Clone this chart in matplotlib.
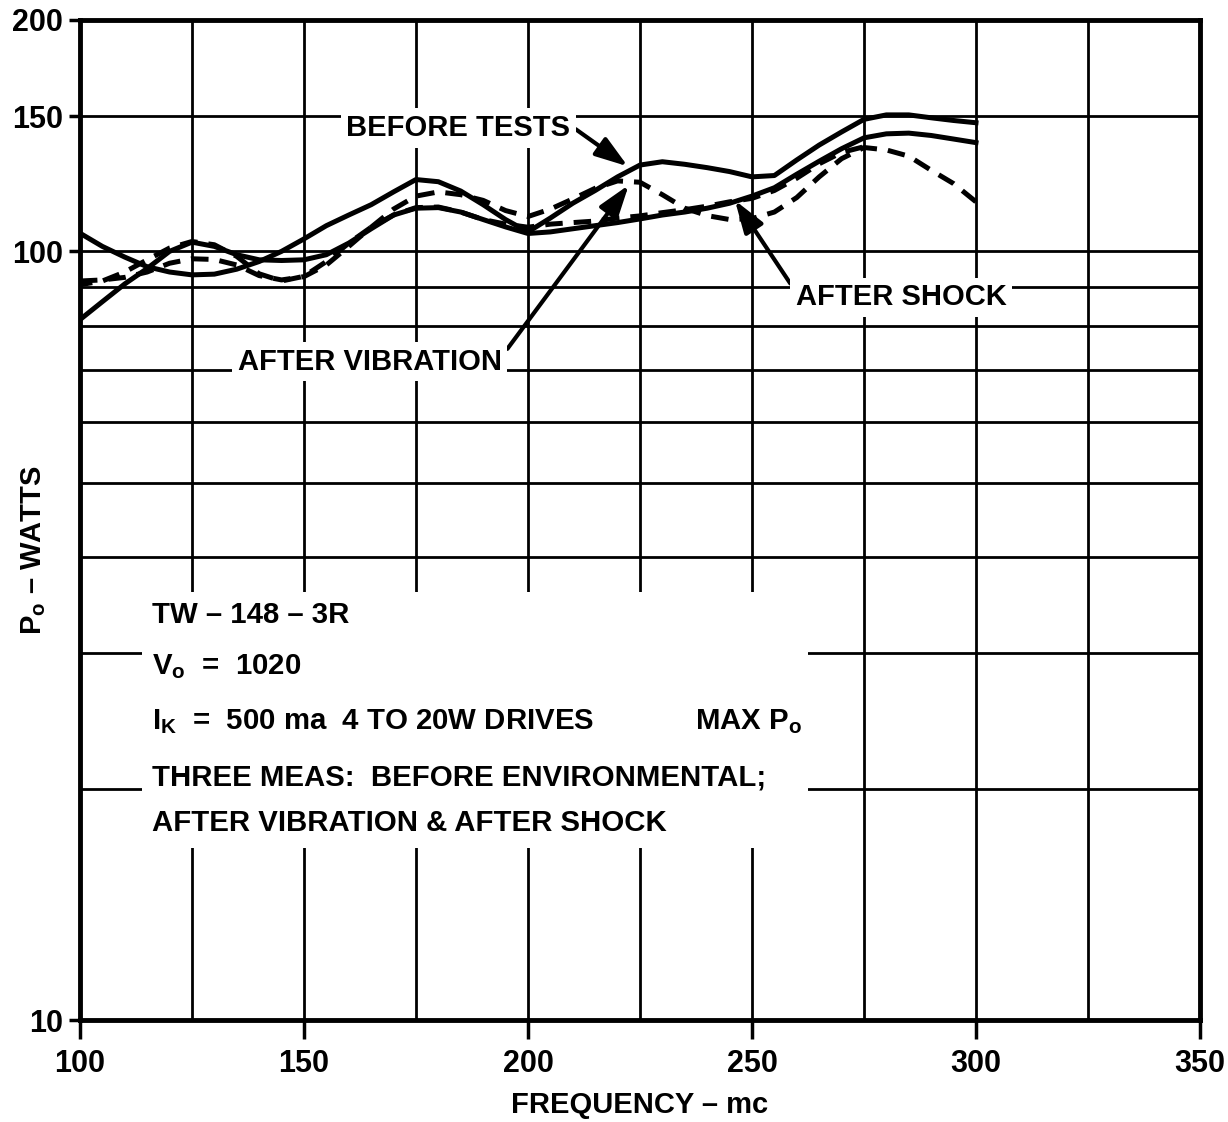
import matplotlib
matplotlib.use('Agg')
import matplotlib.pyplot as plt
from matplotlib.patches import Rectangle
from matplotlib.ticker import NullFormatter

wide = ['Liberation Sans', 'DejaVu Sans']
plt.rcParams['mathtext.fontset'] = 'custom'
plt.rcParams['mathtext.rm'] = 'Liberation Sans:bold'
plt.rcParams['mathtext.it'] = 'Liberation Sans:bold'
plt.rcParams['mathtext.bf'] = 'Liberation Sans:bold'

# frequency (mc) and output power (watts)
freq = [100, 105, 110, 115, 120, 125, 130, 135, 140, 145, 150, 155, 160, 165, 170,
        175, 180, 185, 190, 195, 200, 205, 210, 215, 220, 225, 230, 235, 240, 245,
        250, 255, 260, 265, 270, 275, 280, 285, 290, 295, 300]
before_tests = [105.6, 101.5, 98.3, 95.5, 94.0, 93.2, 93.4, 94.8, 97.0, 100.0, 103.8,
                108.0, 111.5, 115.0, 119.5, 124.0, 123.2, 119.8, 115.0, 110.0, 106.0,
                110.5, 115.5, 120.0, 125.0, 129.5, 130.8, 129.8, 128.5, 127.0, 125.0,
                125.5, 131.5, 137.5, 143.0, 148.5, 150.5, 150.5, 149.2, 148.0, 147.0]
after_shock = [81.5, 86.0, 90.7, 95.0, 100.0, 102.8, 101.5, 99.0, 97.5, 97.3, 97.5,
               99.0, 102.5, 107.0, 111.5, 113.8, 114.0, 112.5, 110.0, 107.6, 105.5,
               106.0, 107.0, 108.0, 109.0, 110.2, 111.5, 112.5, 113.8, 115.5, 118.0,
               121.0, 126.0, 131.0, 136.0, 140.5, 142.2, 142.5, 141.5, 140.0, 138.5]
after_vibration = [91.5, 91.8, 92.5, 94.0, 96.5, 97.8, 97.6, 96.0, 93.0, 91.8, 92.7,
                   96.0, 101.5, 107.5, 113.5, 118.0, 119.5, 118.5, 116.5, 113.0, 111.0,
                   113.5, 117.0, 120.8, 123.5, 123.0, 118.5, 113.8, 111.3, 110.0, 110.3,
                   112.5, 117.5, 125.0, 132.0, 136.5, 135.5, 133.0, 127.5, 122.5, 116.0]
freq_2 = freq[:36]
second_dashed = [90.5, 91.5, 94.0, 97.5, 101.0, 103.0, 102.0, 98.5, 93.5, 91.5, 92.8,
                 97.0, 102.5, 107.5, 111.5, 114.0, 114.2, 112.5, 110.0, 108.5, 107.5,
                 108.5, 109.0, 109.5, 110.5, 111.2, 112.3, 113.3, 114.5, 116.0, 117.2,
                 120.0, 124.5, 130.0, 134.5, 136.8]

xticks = [100, 150, 200, 250, 300, 350]
xminor = [125, 175, 225, 275, 325]
yticks = [10, 100, 150, 200]
yminor = [20, 30, 40, 50, 60, 70, 80, 90]

fig = plt.figure(figsize=(12.28, 11.22), dpi=100)
ax = fig.add_axes([0.0651, 0.0909, 0.9121, 0.8913])
ax.set_yscale('log')
ax.set_xlim(100, 350)
ax.set_ylim(10, 200)
ax.set_axisbelow(True)

ax.set_xticks(xticks)
ax.set_xticks(xminor, minor=True)
ax.set_yticks(yticks)
ax.set_yticklabels([str(v) for v in yticks])
ax.set_yticks(yminor, minor=True)
ax.yaxis.set_minor_formatter(NullFormatter())
ax.grid(which='both', color='black', lw=2)
ax.tick_params(axis='x', which='major', length=14, width=2.5, pad=7, labelsize=22)
ax.tick_params(axis='y', which='major', length=8, width=2.5, pad=4, labelsize=22)
ax.tick_params(which='minor', length=0)
for lab in ax.get_xticklabels() + ax.get_yticklabels():
    lab.set_fontfamily(wide)
    lab.set_fontweight('bold')
for sp in ax.spines.values():
    sp.set_linewidth(3.5)

lw = 3.6
ax.plot(freq, before_tests, color='black', lw=lw, solid_joinstyle='round', zorder=3)
ax.plot(freq, after_shock, color='black', lw=lw, solid_joinstyle='round', zorder=3)
ax.plot(freq, after_vibration, color='black', lw=lw, ls=(0, (3.5, 2.2)), zorder=3)
ax.plot(freq_2, second_dashed, color='black', lw=lw, ls=(1, (3.5, 2.2)), zorder=3)

# white block behind the notes
ax.add_patch(Rectangle((0.0554, 0.172), 0.595, 0.256, transform=ax.transAxes,
                       facecolor='white', edgecolor='none', zorder=1))
note = dict(transform=ax.transAxes, fontfamily=wide, fontweight='bold',
            fontsize=21.2, va='center', ha='left', zorder=5)
ax.text(0.0643, 0.405, 'TW – 148 – 3R', **note)
ax.text(0.0643, 0.353, r'V$_\mathrm{o}$  =  1020', **note)
ax.text(0.0643, 0.298, r'I$_\mathrm{K}$  =  500 ma  4 TO 20W DRIVES', **note)
ax.text(0.549, 0.298, r'MAX P$_\mathrm{o}$', **note)
ax.text(0.0643, 0.243, 'THREE MEAS:  BEFORE ENVIRONMENTAL;', **note)
ax.text(0.0643, 0.197, 'AFTER VIBRATION & AFTER SHOCK', **note)

box = dict(facecolor='white', edgecolor='none', pad=4)
arrow = dict(arrowstyle='-|>,head_length=0.9,head_width=0.3', lw=3, color='black',
             mutation_scale=22, shrinkA=0, shrinkB=0)
ax.annotate('BEFORE TESTS', xy=(222.3, 129.0), xytext=(184.4, 144.7),
            ha='center', va='center', fontsize=21, fontweight='bold', fontfamily=wide,
            bbox=box, zorder=5, arrowprops=dict(arrow, relpos=(1.0, 0.6)))
ax.annotate('AFTER VIBRATION', xy=(222.5, 122.0), xytext=(164.7, 71.8),
            ha='center', va='center', fontsize=21, fontweight='bold', fontfamily=wide,
            bbox=box, zorder=5, arrowprops=dict(arrow, relpos=(1.0, 0.7)))
ax.annotate('AFTER SHOCK', xy=(246.2, 116.5), xytext=(259.8, 87.1),
            ha='left', va='center', fontsize=21, fontweight='bold', fontfamily=wide,
            bbox=box, zorder=5, arrowprops=dict(arrow, relpos=(0.0, 0.7)))

fig.text(0.521, 0.0152, 'FREQUENCY – mc', ha='center', va='center', fontsize=21,
         fontweight='bold', fontfamily=wide)
fig.text(0.027, 0.51, r'P$_\mathrm{o}$ – WATTS', ha='center', va='center', fontsize=21,
         fontweight='bold', fontfamily=wide, rotation=90)

fig.savefig('out.png', dpi=100)
